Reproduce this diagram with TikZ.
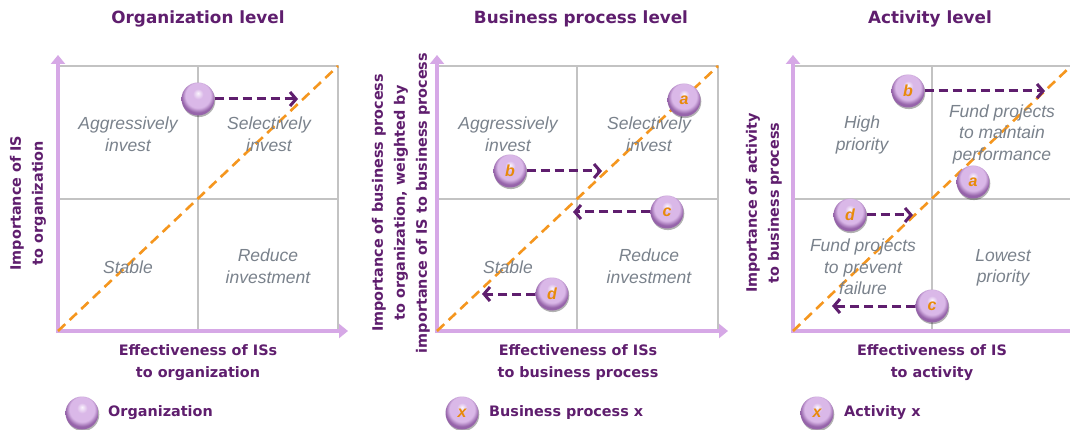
\documentclass[tikz,border=0pt]{standalone}
\usepackage{fontspec}
\setmainfont{DejaVu Sans}
\newfontfamily\qfont{Liberation Sans}
\usetikzlibrary{arrows.meta,shadows}
\definecolor{pur}{RGB}{95,30,110}
\definecolor{lil}{RGB}{214,168,230}
\definecolor{gridc}{RGB}{195,195,195}
\definecolor{orng}{RGB}{245,150,30}
\definecolor{qgray}{RGB}{122,130,140}
\definecolor{balll}{RGB}{218,184,232}
\definecolor{balld}{RGB}{150,100,170}
\definecolor{ballh}{RGB}{250,244,253}
\definecolor{lettc}{RGB}{232,138,10}
\pgfdeclareradialshading{lilacball}{\pgfpoint{0bp}{9bp}}{color(0bp)=(ballh); color(8bp)=(balll); color(19bp)=(balll); color(25bp)=(balld); color(50bp)=(balld)}
\tikzset{
  gridln/.style={draw=gridc, line width=1.2pt},
  axisln/.style={draw=lil, line width=4pt, -{Triangle[length=9pt,width=14pt]}},
  diag/.style={draw=orng, line width=2.6pt, dash pattern=on 10pt off 6pt},
  mv/.style={draw=pur, line width=3pt, dash pattern=on 9pt off 5pt, -{Straight Barb[length=6pt,width=14pt]}},
  bub/.style={circle, minimum size=33pt, inner sep=0pt, shading=lilacball,
     drop shadow={shadow xshift=0.8pt, shadow yshift=-1.6pt, opacity=0.3, fill=black},
     font=\qfont\bfseries\itshape\fontsize{16}{16}\selectfont, text=lettc},
  ttl/.style={font=\bfseries\fontsize{16.8}{20}\selectfont, text=pur},
  lab/.style={font=\bfseries\fontsize{14.4}{22}\selectfont, text=pur, align=center, inner sep=0pt},
  quad/.style={font=\qfont\itshape\fontsize{17.5}{21.5}\selectfont, text=qgray, align=center, inner sep=0pt},
}
\begin{document}
\begin{tikzpicture}[x=1pt,y=-1pt]
\useasboundingbox[fill=white] (0,0) rectangle (1070,430);
% panels: axes, grid, diagonal
\foreach \L/\M/\R/\n in {58/198/338/1,437/577/718/2,793/932/1071/3}{
  \coordinate (O\n) at (\L,331);
  \coordinate (Ob\n) at (\L,333);
  \coordinate (Ol\n) at (\L-2,331);
  \coordinate (Yt\n) at (\L,55);
  \coordinate (Xt\n) at (\R+10,331);
  \coordinate (TL\n) at (\L,66);
  \coordinate (TR\n) at (\R,66);
  \coordinate (BR\n) at (\R,331);
  \coordinate (MT\n) at (\M,66);
  \coordinate (MB\n) at (\M,331);
  \coordinate (ML\n) at (\L,199);
  \coordinate (MR\n) at (\R,199);
  \draw[gridln] (TL\n) -- (TR\n) -- (BR\n);
  \draw[gridln] (MT\n) -- (MB\n);
  \draw[gridln] (ML\n) -- (MR\n);
  \draw[axisln] (Ob\n) -- (Yt\n);
  \draw[axisln] (Ol\n) -- (Xt\n);
  \draw[diag] (O\n) -- (TR\n);
}
% titles
\node[ttl] (t1) at (198,19) {Organization level};
\node[ttl] (t2) at (581,19) {Business process level};
\node[ttl] (t3) at (930,19) {Activity level};
% axis labels
\node[lab, rotate=90] (y1) at (28,203) {Importance of IS\\to organization};
\node[lab, rotate=90] (y2) at (401,203) {Importance of business process\\to organization, weighted by\\importance of IS to business process};
\node[lab, rotate=90] (y3) at (764,203) {Importance of activity\\to business process};
\node[lab] (x1) at (198,363) {Effectiveness of ISs\\to organization};
\node[lab] (x2) at (578,363) {Effectiveness of ISs\\to business process};
\node[lab] (x3) at (932,363) {Effectiveness of IS\\to activity};
% quadrant texts
\node[quad] (q11) at (128,134) {Aggressively\\invest};
\node[quad] (q12) at (269,134) {Selectively\\invest};
\node[quad] (q13) at (128,267) {Stable};
\node[quad] (q14) at (268,266) {Reduce\\investment};
\node[quad] (q21) at (508,134) {Aggressively\\invest};
\node[quad] (q22) at (649,134) {Selectively\\invest};
\node[quad] (q23) at (508,267) {Stable};
\node[quad] (q24) at (649,266) {Reduce\\investment};
\node[quad] (q31) at (862,135) {High\\priority};
\node[quad] (q32) at (1002,134) {Fund projects\\to maintain\\performance};
\node[quad] (q33) at (863,267) {Fund projects\\to prevent\\failure};
\node[quad] (q34) at (1003,268) {Lowest\\priority};
% bubbles
\node[bub] (org) at (198,99) {};
\node[bub] (pa) at (684,100) {a};
\node[bub] (pb) at (510,171) {b};
\node[bub] (pc) at (667,212) {c};
\node[bub] (pd) at (552,294) {d};
\node[bub] (ab) at (908,91) {b};
\node[bub] (aa) at (973,182) {a};
\node[bub] (ad) at (850,215) {d};
\node[bub] (ac) at (932,306) {c};
% movement arrows
\coordinate (org-t) at (298,99);
\coordinate (pb-t) at (602,171);
\coordinate (pc-t) at (573,212);
\coordinate (pd-t) at (482,294);
\coordinate (ab-t) at (1045,91);
\coordinate (ad-t) at (913,215);
\coordinate (ac-t) at (832,306);
\draw[mv] (org) -- (org-t);
\draw[mv] (pb) -- (pb-t);
\draw[mv] (pc) -- (pc-t);
\draw[mv] (pd) -- (pd-t);
\draw[mv] (ab) -- (ab-t);
\draw[mv] (ad) -- (ad-t);
\draw[mv] (ac) -- (ac-t);
% legend
\node[bub] (lg1) at (82,413) {};
\node[lab, anchor=west] (lt1) at (108,413) {Organization};
\node[bub] (lg2) at (462,413) {x};
\node[lab, anchor=west] (lt2) at (489,413) {Business process x};
\node[bub] (lg3) at (817,413) {x};
\node[lab, anchor=west] (lt3) at (844,413) {Activity x};
\end{tikzpicture}
\end{document}
